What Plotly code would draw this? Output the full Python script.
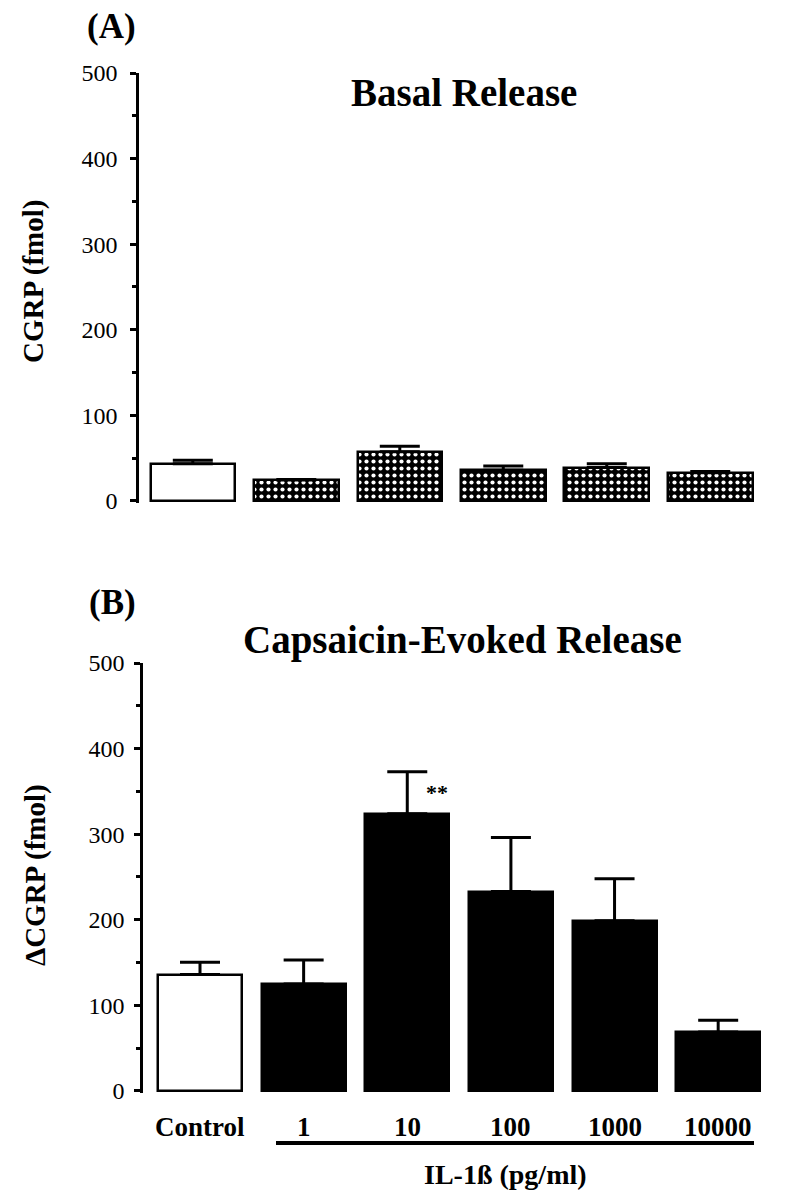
import plotly.graph_objects as go

W, H = 793, 1199
OFF = 8  # page body margin in the browser

# ---- data ----
categories = ["Control", "1", "10", "100", "1000", "10000"]
basal_values = [43.5, 24.5, 57.5, 36, 39, 33]
basal_errors = [4, 0.5, 6.5, 5, 4.5, 1.5]
evoked_values = [136, 125, 324, 233, 199, 69]
evoked_errors = [14.5, 28, 49, 63, 49, 13.5]
y_ticks = [0, 100, 200, 300, 400, 500]

FONT = "Liberation Serif"

def px_x(p):
    return (p - OFF) / W

def px_y(p):
    return 1 - (p - OFF) / H

xs = list(range(len(categories)))

fig = go.Figure()

fig.add_trace(go.Bar(
    x=xs[:1], y=basal_values[:1], width=0.817,
    marker=dict(color="white", line=dict(color="black", width=2.5)),
    error_y=dict(type="data", symmetric=False, array=basal_errors[:1], arrayminus=[0],
                 color="black", thickness=3, width=20),
    xaxis="x", yaxis="y", showlegend=False,
))
fig.add_trace(go.Bar(
    x=xs[1:], y=basal_values[1:], width=0.817,
    marker=dict(color="black", line=dict(color="black", width=2.5),
                pattern=dict(shape=".", bgcolor="black", fgcolor="white",
                             size=7, solidity=0.28, fillmode="replace")),
    error_y=dict(type="data", symmetric=False, array=basal_errors[1:],
                 arrayminus=[0] * (len(xs) - 1),
                 color="black", thickness=3, width=20),
    xaxis="x", yaxis="y", showlegend=False,
))

fig.add_trace(go.Bar(
    x=xs, y=evoked_values, width=0.81,
    marker=dict(color=["white"] + ["black"] * (len(xs) - 1),
                line=dict(color="black", width=2.5)),
    error_y=dict(type="data", symmetric=False, array=evoked_errors,
                 arrayminus=[0] * len(xs),
                 color="black", thickness=3, width=20),
    xaxis="x2", yaxis="y2", showlegend=False,
))

yaxis_common = dict(
    range=[-2, 500], tickvals=y_ticks, ticktext=[str(v) for v in y_ticks],
    ticks="outside", ticklen=6, tickwidth=2.5, tickcolor="black",
    showline=True, linecolor="black", linewidth=2.5,
    showgrid=False, zeroline=False, automargin=False,
    tickfont=dict(family=FONT, size=24, color="black"),
    minor=dict(dtick=50, ticks="outside", ticklen=4, tickwidth=2.5, tickcolor="black", showgrid=False),
)
xaxis_common = dict(showline=False, showticklabels=False, ticks="", showgrid=False,
                    zeroline=False, automargin=False)

fig.update_layout(
    template="none",
    width=W, height=H,
    margin=dict(l=0, r=0, t=0, b=0, pad=0, autoexpand=False),
    paper_bgcolor="white", plot_bgcolor="white",
    showlegend=False,
    bargap=0,
    xaxis=dict(domain=[px_x(139), px_x(762)], range=[-0.52, 5.5], anchor="y", **xaxis_common),
    yaxis=dict(domain=[px_y(502.7), px_y(73)], anchor="x", ticklabelstandoff=8, **yaxis_common),
    xaxis2=dict(domain=[px_x(143), px_x(770)], range=[-0.55, 5.5], anchor="y2", **xaxis_common),
    yaxis2=dict(domain=[px_y(1092.7), px_y(663)], anchor="x2", ticklabelstandoff=5, **yaxis_common),
)

def ann(text, x, y, size, angle=0, xref="paper"):
    return dict(text=text, x=x, y=px_y(y), xref=xref, yref="paper",
                xanchor="center", yanchor="middle", showarrow=False, textangle=angle,
                font=dict(family=FONT, size=size, color="black"))

annotations = [
    ann("<b>(A)</b>", px_x(111), 27, 35),
    ann("<b>Basal Release</b>", px_x(464), 93, 39),
    ann("<b>(B)</b>", px_x(112), 602, 35),
    ann("<b>Capsaicin-Evoked Release</b>", px_x(462), 640, 39),
    ann("<b>CGRP (fmol)</b>", px_x(33), 281, 29, -90),
    ann("<b>ΔCGRP (fmol)</b>", px_x(35), 875, 29, -90),
    ann("<b>IL-1ß (pg/ml)</b>", px_x(506), 1174, 28),
]
for i, c in enumerate(categories):
    annotations.append(ann(f"<b>{c}</b>", i, 1127, 27, xref="x2"))
star = ann("<b>**</b>", 2, 792, 22, xref="x2")
star["xshift"] = 30
annotations.append(star)
fig.update_layout(annotations=annotations)

fig.add_shape(type="line", xref="paper", yref="paper",
              x0=px_x(276), x1=px_x(754), y0=px_y(1143), y1=px_y(1143),
              line=dict(color="black", width=4))

fig.write_html("out.html")
